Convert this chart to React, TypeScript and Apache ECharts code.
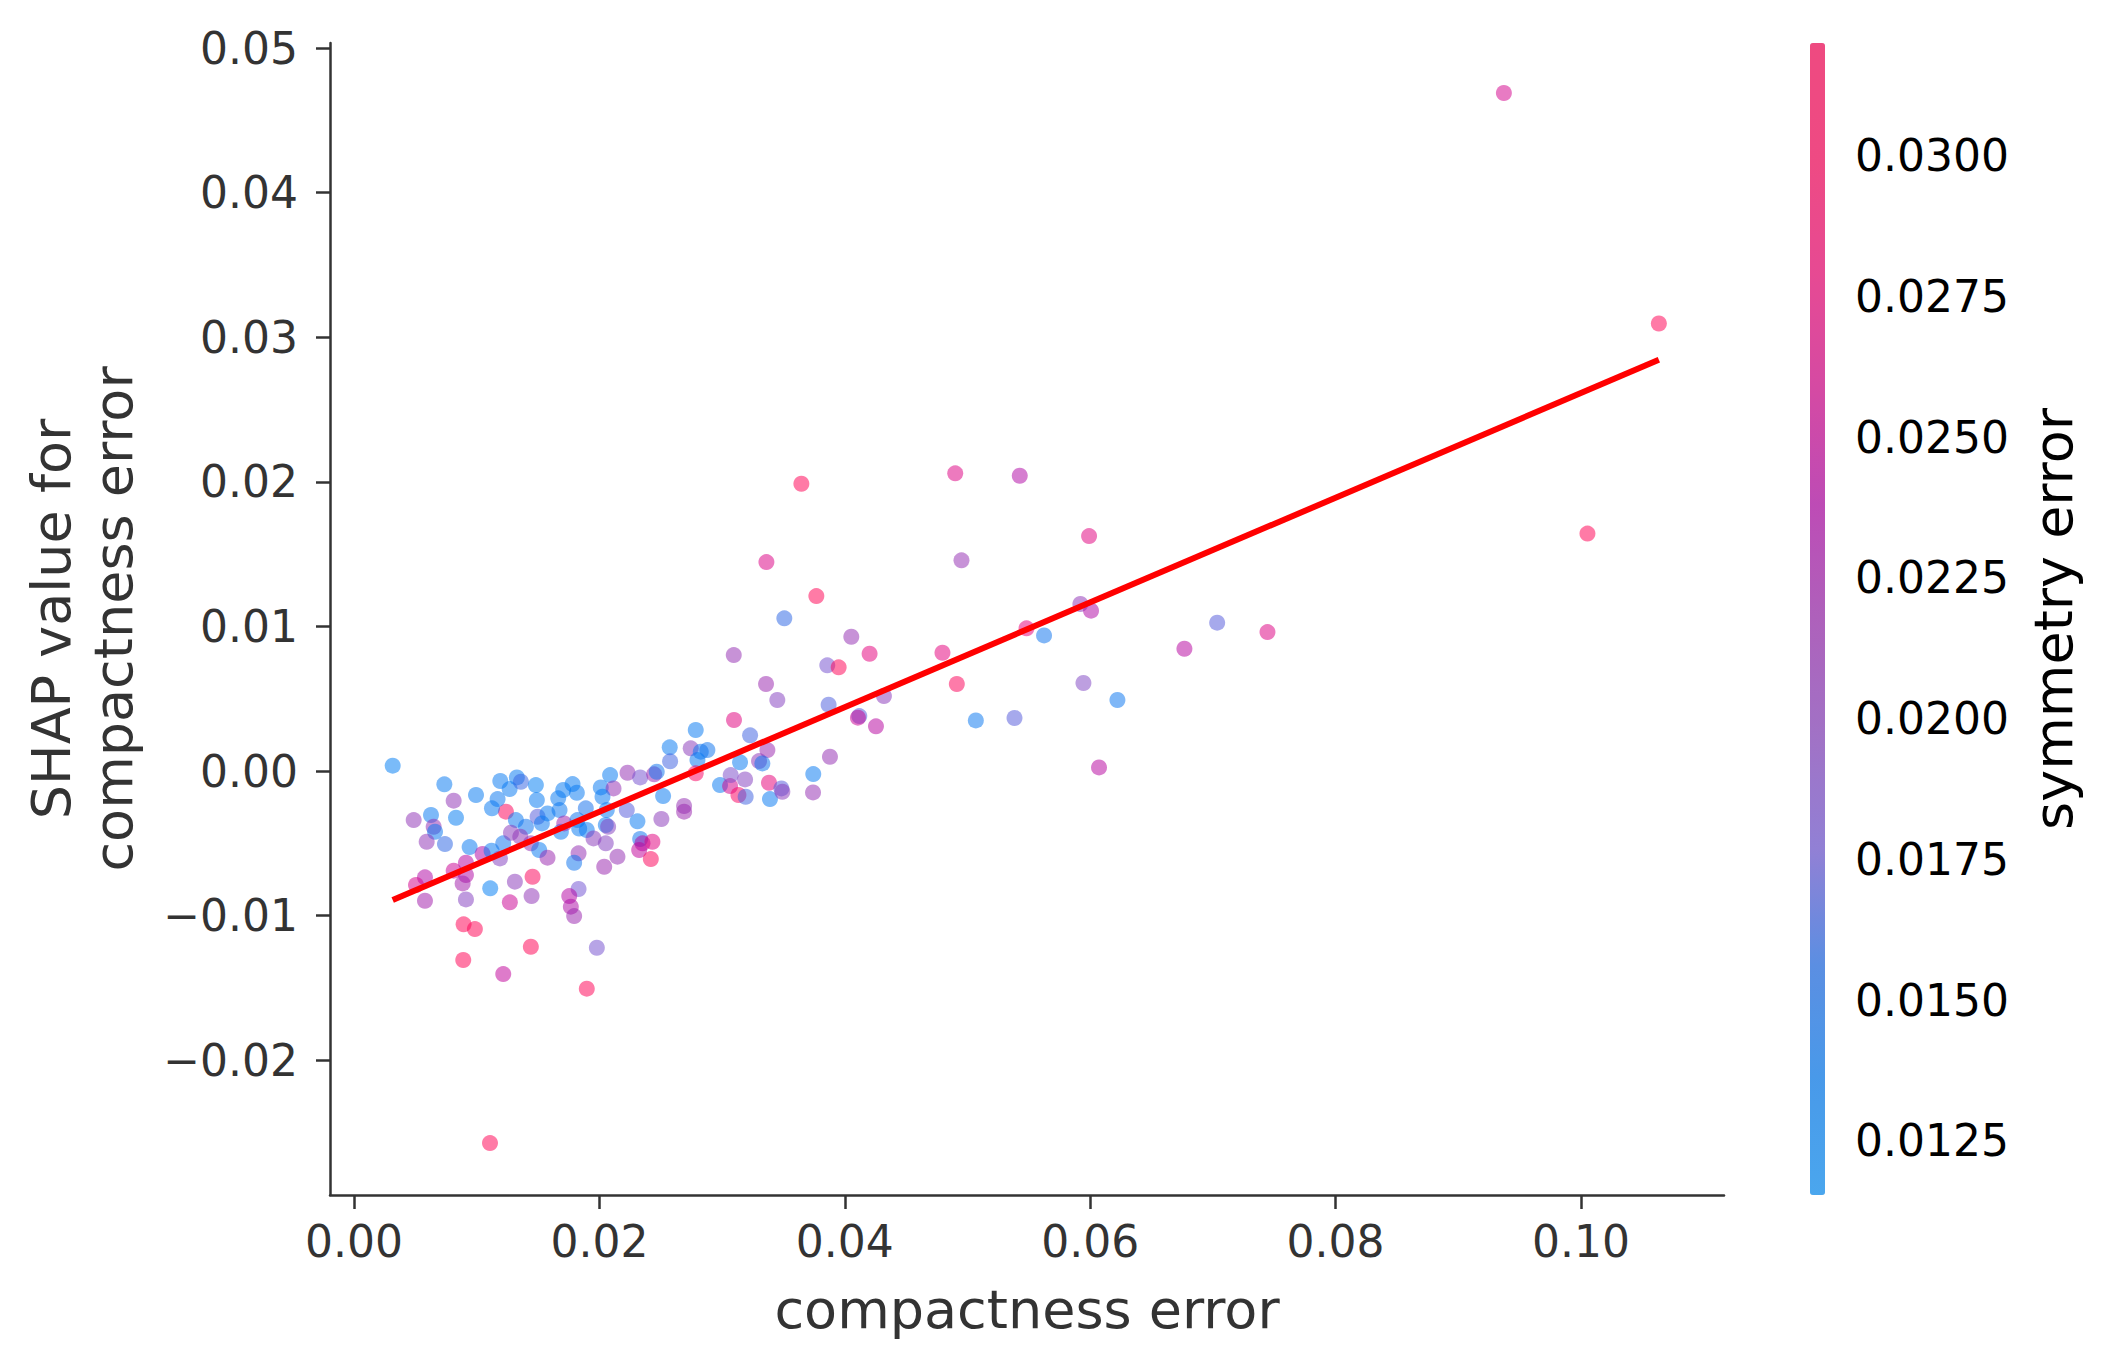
import React, { useEffect, useRef } from 'react';
import * as echarts from 'echarts';

// compactness error (x), SHAP value (y), symmetry error (colour)
const compactnessError = [
  0.00315, 0.00736, 0.00812, 0.00994, 0.00486, 0.00627, 0.00649, 0.0066, 0.00592, 0.00741,
  0.00831, 0.00942, 0.01048, 0.01121, 0.01189, 0.01216, 0.01238, 0.01124, 0.0117, 0.01192,
  0.01268, 0.01327, 0.0136, 0.01482, 0.0149, 0.01319, 0.01401, 0.01279, 0.01355, 0.01441,
  0.01509, 0.01577, 0.01496, 0.01531, 0.01577, 0.01664, 0.01705, 0.01781, 0.01816, 0.01675,
  0.01686, 0.01713, 0.01821, 0.01835, 0.01889, 0.01897, 0.01952, 0.02011, 0.02087, 0.02115,
  0.02025, 0.0206, 0.02052, 0.02071, 0.02052, 0.02147, 0.02039, 0.0183, 0.01794, 0.02229,
  0.02332, 0.02446, 0.02467, 0.02223, 0.0231, 0.02519, 0.02505, 0.02332, 0.02351, 0.02432,
  0.02324, 0.02419, 0.02573, 0.02576, 0.0269, 0.0269, 0.02785, 0.02744, 0.02826, 0.0288,
  0.02799, 0.02785, 0.03097, 0.02983, 0.03065, 0.0307,
  0.00578, 0.00505, 0.00578, 0.00812, 0.00912, 0.00912, 0.00885, 0.00912, 0.0111, 0.01311,
  0.01455, 0.01447, 0.0127, 0.00893, 0.00985, 0.0089, 0.01216, 0.01441, 0.01897, 0.01979,
  0.0183, 0.01754, 0.01767, 0.01794, 0.01108,
  0.03646, 0.049, 0.05426, 0.05991, 0.04951, 0.03361, 0.03768, 0.03507, 0.03095, 0.04053,
  0.04202, 0.03857, 0.0395, 0.03358, 0.0345, 0.03868, 0.04319, 0.04118, 0.04107, 0.04254,
  0.04796, 0.04913, 0.05481, 0.05624, 0.0592, 0.06007, 0.05945, 0.06222, 0.05068, 0.05383,
  0.06072, 0.03228, 0.03369, 0.03301, 0.03328, 0.03146, 0.03187, 0.03133, 0.03192, 0.03382,
  0.0339, 0.03483, 0.03491, 0.03743, 0.03741, 0.03879,
  0.09372, 0.10635, 0.10053, 0.07445, 0.07035, 0.06768,
];

const shapValue = [
  0.00037, -0.00092, -0.00205, -0.00166, -0.00339, -0.00304, -0.00385, -0.0042, -0.00489, -0.00505,
  -0.00323, -0.00526, -0.00574, -0.00551, -0.00604, -0.005, -0.00281, -0.00258, -0.00194, -0.00069,
  -0.00125, -0.00044, -0.00074, -0.00097, -0.00201, -0.00339, -0.00385, -0.00427, -0.00454, -0.005,
  -0.00546, -0.00599, -0.00316, -0.00362, -0.00293, -0.00189, -0.00131, -0.0009, -0.0015, -0.0027,
  -0.0042, -0.00362, -0.00339, -0.00397, -0.00258, -0.00408, -0.00466, -0.00113, -0.00028, -0.0012,
  -0.00178, -0.0027, -0.00373, -0.00385, -0.005, -0.00592, -0.00662, -0.00569, -0.00634, -0.00012,
  -0.00044, -0.00023, -0.00005, -0.0027, -0.00348, -0.00173, -0.00332, -0.0047, -0.005, -0.00489,
  -0.00546, -0.00609, 0.00164, 0.00067, -0.00242, -0.00281, 0.00284, 0.00157, 0.00134, 0.00145,
  0.00076, -0.00016, 0.00353, -0.00097, -0.00104, -0.00028,
  -0.00735, -0.00788, -0.00897, -0.00689, -0.00634, -0.00719, -0.00777, -0.00888, -0.00811, -0.00765,
  -0.00731, -0.00865, -0.00908, -0.0106, -0.01093, -0.01307, -0.01404, -0.01215, -0.01505, -0.01222,
  -0.00816, -0.00865, -0.00938, -0.01003, -0.02573,
  0.01987, 0.02059, 0.02042, 0.01625, 0.01457, 0.01445, 0.0121, 0.01056, 0.00802, 0.00929,
  0.00811, 0.00731, 0.00717, 0.00602, 0.00491, 0.00459, 0.00519, 0.0038, 0.00369, 0.00309,
  0.00818, 0.00602, 0.00987, 0.00938, 0.01155, 0.01109, 0.00609, 0.00491, 0.0035, 0.00367,
  0.00025, 0.00247, 0.00145, 0.00069, 0.00053, 0.0006, -0.00058, -0.00166, -0.00178, -0.00081,
  -0.00194, -0.0012, -0.00143, -0.00021, -0.00148, 0.00099,
  0.04689, 0.03095, 0.01642, 0.00961, 0.01026, 0.00846,
];

const symmetryError = [
  0.0135, 0.014, 0.0205, 0.0138, 0.0205, 0.014, 0.021, 0.0142, 0.0205, 0.016,
  0.0137, 0.014, 0.0235, 0.014, 0.0195, 0.0145, 0.0295, 0.014, 0.0142, 0.014,
  0.014, 0.0138, 0.0162, 0.0135, 0.0138, 0.0142, 0.0145, 0.02, 0.0205, 0.021,
  0.014, 0.0215, 0.017, 0.0142, 0.014, 0.014, 0.0138, 0.0138, 0.014, 0.0142,
  0.014, 0.022, 0.0145, 0.014, 0.015, 0.014, 0.02, 0.014, 0.0138, 0.021,
  0.014, 0.014, 0.014, 0.0195, 0.0195, 0.021, 0.0215, 0.021, 0.0145, 0.021,
  0.018, 0.0215, 0.0145, 0.017, 0.014, 0.014, 0.02, 0.0145, 0.024, 0.0265,
  0.0245, 0.0295, 0.014, 0.0165, 0.021, 0.0215, 0.014, 0.02, 0.0145, 0.0145,
  0.014, 0.029, 0.0265, 0.014, 0.0255, 0.0185,
  0.0235, 0.0255, 0.0222, 0.025, 0.024, 0.0235, 0.0222, 0.0195, 0.0135, 0.02,
  0.0295, 0.0205, 0.025, 0.031, 0.0305, 0.031, 0.0245, 0.0305, 0.03, 0.018,
  0.0178, 0.0238, 0.0232, 0.0215, 0.0305,
  0.031, 0.0262, 0.0235, 0.0265, 0.021, 0.026, 0.0305, 0.016, 0.021, 0.021,
  0.0268, 0.018, 0.03, 0.0215, 0.0195, 0.0168, 0.02, 0.017, 0.025, 0.024,
  0.0268, 0.0295, 0.027, 0.0145, 0.0205, 0.0235, 0.019, 0.0143, 0.0142, 0.017,
  0.024, 0.0165, 0.0215, 0.0205, 0.0145, 0.014, 0.0195, 0.029, 0.0165, 0.027,
  0.014, 0.017, 0.02, 0.014, 0.021, 0.021,
  0.0255, 0.031, 0.031, 0.0262, 0.017, 0.024,
];

const trendX = [0.00315, 0.10635];
const trendY = [-0.00892, 0.02844];

const xTicks = [0, 0.02, 0.04, 0.06, 0.08, 0.1];
const yTicks = [-0.02, -0.01, 0, 0.01, 0.02, 0.03, 0.04, 0.05];
const colorTicks = [0.0125, 0.015, 0.0175, 0.02, 0.0225, 0.025, 0.0275, 0.03];
const colorMin = 0.01154;
const colorMax = 0.032;
const colorStops = [
  'rgba(3,143,250,0.65)',
  'rgba(0,123,243,0.65)',
  'rgba(29,106,232,0.65)',
  'rgba(112,84,212,0.65)',
  'rgba(136,62,188,0.65)',
  'rgba(156,36,172,0.65)',
  'rgba(180,3,163,0.65)',
  'rgba(216,0,135,0.65)',
  'rgba(243,0,110,0.65)',
  'rgba(255,1,86,0.65)',
  'rgba(255,0,82,0.65)',
];

const FONT = 'DejaVu Sans';

function fmt(v: number, d: number): string {
  return (v < -1e-9 ? '\u2212' : '') + Math.abs(v).toFixed(d);
}

export default function App() {
  const ref = useRef<HTMLDivElement>(null);

  useEffect(() => {
    if (!ref.current) return;
    const chart = echarts.init(ref.current, null, { renderer: 'svg' });
    const points = compactnessError.map((x, i) => [x, shapValue[i], symmetryError[i]]);
    const trend = trendX.map((x, i) => [x, trendY[i]]);

    chart.setOption({
      animation: false,
      backgroundColor: '#ffffff',
      grid: [
        { left: 330, top: 43, width: 1394, height: 1152 },
        { left: 1810, top: 43, width: 15, height: 1152 },
      ],
      xAxis: [
        {
          type: 'value',
          gridIndex: 0,
          min: -0.00196,
          max: 0.11166,
          splitLine: { show: false },
          axisLine: { show: true, onZero: false, lineStyle: { color: '#333333', width: 2.5 } },
          axisTick: { show: true, length: 14, customValues: xTicks, lineStyle: { color: '#333333', width: 2.5 } },
          axisLabel: {
            customValues: xTicks,
            formatter: (v: number) => fmt(v, 2),
            color: '#333333',
            fontFamily: FONT,
            fontSize: 44,
            margin: 24,
          },
          name: 'compactness error',
          nameLocation: 'middle',
          nameGap: 87,
          nameTextStyle: { color: '#333333', fontFamily: FONT, fontSize: 54 },
        },
        { type: 'value', gridIndex: 1, show: false, min: 0, max: 1 },
      ],
      yAxis: [
        {
          type: 'value',
          gridIndex: 0,
          min: -0.02932,
          max: 0.05035,
          splitLine: { show: false },
          axisLine: { show: true, onZero: false, lineStyle: { color: '#333333', width: 2.5 } },
          axisTick: { show: true, length: 14, customValues: yTicks, lineStyle: { color: '#333333', width: 2.5 } },
          axisLabel: {
            customValues: yTicks,
            formatter: (v: number) => fmt(v, 2),
            color: '#333333',
            fontFamily: FONT,
            fontSize: 44,
            margin: 32,
          },
          name: 'SHAP value for\ncompactness error',
          nameLocation: 'middle',
          nameGap: 186,
          nameTextStyle: { color: '#333333', fontFamily: FONT, fontSize: 54, lineHeight: 62 },
        },
        {
          type: 'value',
          gridIndex: 1,
          position: 'right',
          min: colorMin,
          max: colorMax,
          splitLine: { show: false },
          axisLine: { show: false },
          axisTick: { show: true, length: 14, customValues: colorTicks, lineStyle: { color: '#000000', width: 2.5 } },
          axisLabel: {
            customValues: colorTicks,
            formatter: (v: number) => v.toFixed(4),
            color: '#000000',
            fontFamily: FONT,
            fontSize: 44,
            margin: 30,
          },
          name: 'symmetry error',
          nameLocation: 'middle',
          nameRotate: 90,
          nameGap: 201,
          nameTextStyle: { color: '#000000', fontFamily: FONT, fontSize: 54 },
        },
      ],
      visualMap: {
        type: 'continuous',
        min: colorMin,
        max: colorMax,
        dimension: 2,
        seriesIndex: 0,
        inRange: { color: colorStops },
        orient: 'vertical',
        left: 1810,
        top: 43,
        itemWidth: 15,
        itemHeight: 1152,
        padding: 0,
        calculable: false,
        hoverLink: false,
        text: null,
      },
      series: [
        {
          type: 'scatter',
          xAxisIndex: 0,
          yAxisIndex: 0,
          data: points,
          symbolSize: 16,
          itemStyle: { borderWidth: 0 },
          z: 2,
        },
        {
          type: 'line',
          xAxisIndex: 0,
          yAxisIndex: 0,
          data: trend,
          symbol: 'none',
          silent: true,
          lineStyle: { color: '#ff0000', width: 6 },
          z: 3,
        },
      ],
    });

    return () => chart.dispose();
  }, []);

  return (
    <div
      ref={ref}
      style={{ position: 'absolute', left: 0, top: 0, width: 2113, height: 1369, background: '#ffffff' }}
    />
  );
}
